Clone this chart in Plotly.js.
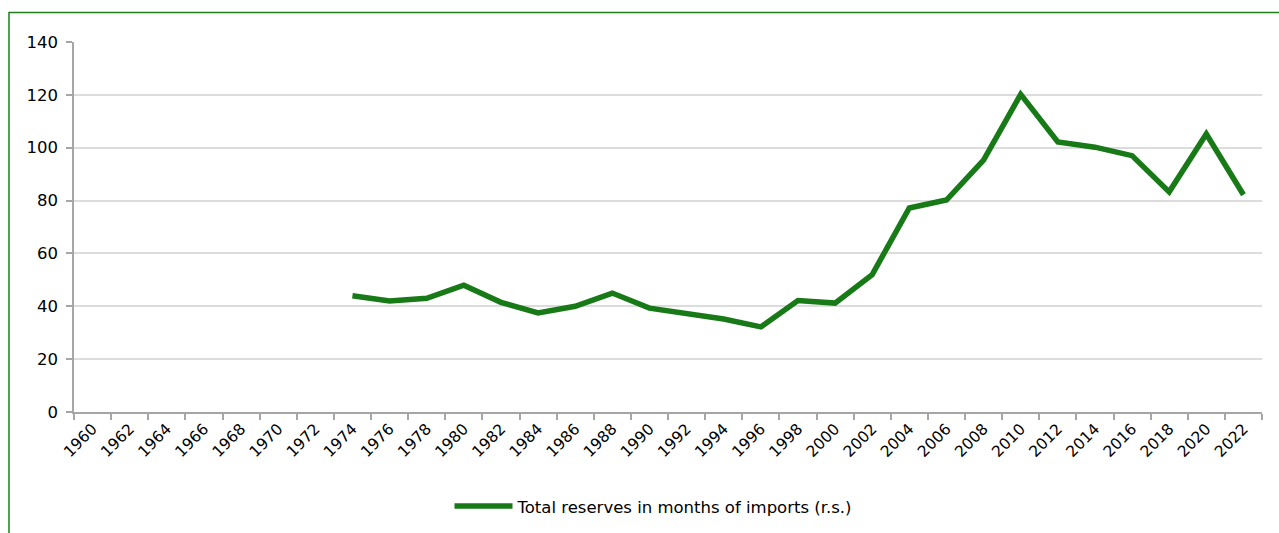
<!DOCTYPE html>
<html>
<head>
<meta charset="utf-8">
<script src="https://cdn.plot.ly/plotly-3.0.1.min.js"></script>
<style>html,body{margin:0;padding:0;background:#fff;}#chart{width:1279px;height:533px;}</style>
</head>
<body>
<div id="chart"></div>
<script>
const years = ["1960","1962","1964","1966","1968","1970","1972","1974","1976","1978","1980","1982","1984","1986","1988","1990","1992","1994","1996","1998","2000","2002","2004","2006","2008","2010","2012","2014","2016","2018","2020","2022"];
const reserves = [null,null,null,null,null,null,null,44,42,43,48,41.5,37.5,40,45,39.3,37.3,35.2,32.2,42.2,41.2,52,77.2,80.2,95.3,120.2,102.2,100.2,97,83.3,105.2,82.2];
const seriesName = "Total reserves in months of imports (r.s.)";
const yTicks = [0,20,40,60,80,100,120,140];

const xFont = {family: "DejaVu Sans, Verdana, sans-serif", size: 15.5, color: "#000"};
const yFont = {family: "DejaVu Sans, Verdana, sans-serif", size: 16.5, color: "#000"};
const legendFont = {family: "DejaVu Sans, Verdana, sans-serif", size: 16.5, color: "#000"};
const L = 74, R = 1262, T = 42, B = 412.5;
const W = R - L, H = B - T;
const px = v => (v - L) / W;
const py = v => (B - v) / H;

Plotly.newPlot("chart", [{
  x: years,
  y: reserves,
  type: "scatter",
  mode: "lines",
  name: seriesName,
  connectgaps: false,
  line: {color: "#177a17", width: 5.5, shape: "linear"},
  hoverinfo: "x+y"
}], {
  width: 1279, height: 533,
  margin: {l: L, r: 1279 - R, t: T, b: 533 - B, pad: 0, autoexpand: false},
  paper_bgcolor: "#fff", plot_bgcolor: "#fff",
  font: xFont,
  showlegend: true,
  legend: {orientation: "h", x: px(654), xanchor: "center", y: py(507), yanchor: "middle",
           font: legendFont, itemwidth: 58, bgcolor: "rgba(0,0,0,0)"},
  xaxis: {
    type: "category", categoryorder: "array", categoryarray: years,
    range: [-0.5, years.length - 0.5],
    tickson: "boundaries", ticks: "outside", ticklen: 6, tickwidth: 1.5, tickcolor: "#a6a6a6",
    showline: true, linecolor: "#a6a6a6", linewidth: 1.5,
    showgrid: false, zeroline: false, automargin: false,
    tickangle: -45, tickfont: xFont, fixedrange: true
  },
  yaxis: {
    range: [0, 140], tickvals: yTicks, ticktext: yTicks.map(String),
    ticks: "outside", ticklen: 6, tickwidth: 1.5, tickcolor: "#a6a6a6",
    showline: true, linecolor: "#a6a6a6", linewidth: 1.5,
    showgrid: true, gridcolor: "#dcdcdc", gridwidth: 2, automargin: false,
    zeroline: false, tickfont: yFont, ticklabelstandoff: 5, fixedrange: true
  },
  shapes: [{
    type: "rect", xref: "paper", yref: "paper",
    x0: px(9), x1: px(1300), y0: py(560), y1: py(12.5),
    line: {color: "#1f7f1f", width: 1.5}, fillcolor: "rgba(0,0,0,0)", layer: "above"
  }]
}, {displayModeBar: false, staticPlot: false});
</script>
</body>
</html>
